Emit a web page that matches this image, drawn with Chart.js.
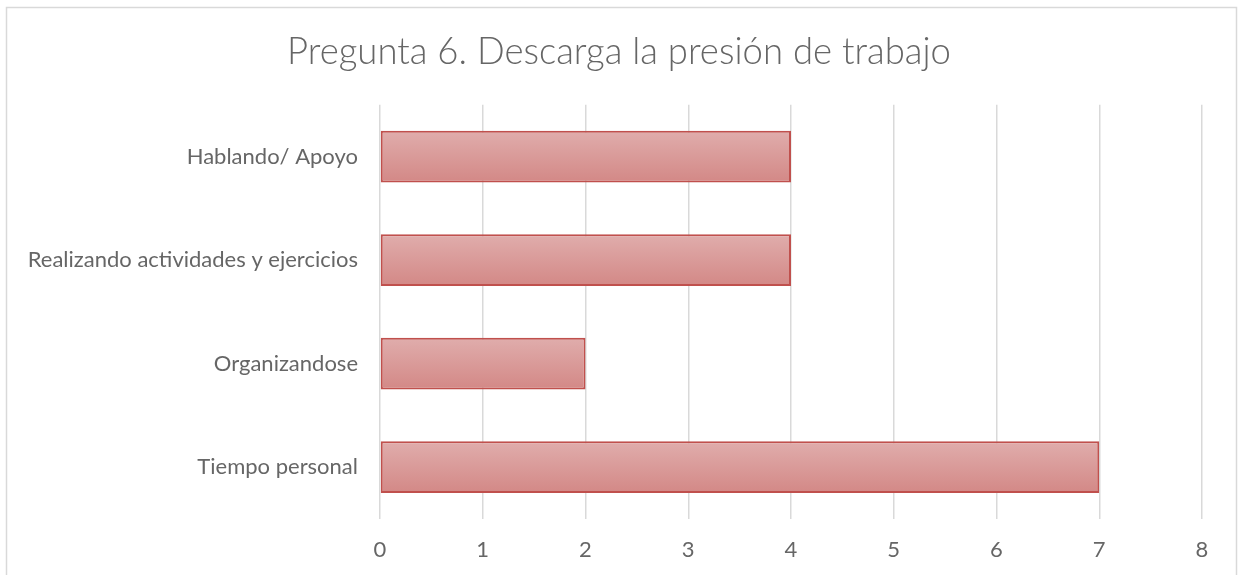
<!DOCTYPE html>
<html>
<head>
<meta charset="utf-8">
<script src="https://cdn.jsdelivr.net/npm/chart.js@4/dist/chart.umd.min.js"></script>
<style>
  html, body { margin: 0; padding: 0; background: #fff; }
  #wrap { width: 1238px; height: 575px; position: relative; }
</style>
</head>
<body>
<div id="wrap"><canvas id="c" width="1238" height="575"></canvas></div>
<script>
// datos de la grafica
var categorias = ["Hablando/ Apoyo", "Realizando actividades y ejercicios", "Organizandose", "Tiempo personal"];
var valores = [4, 4, 2, 7];
var titulo = "Pregunta 6. Descarga la presión de trabajo";
var ejeMin = 0, ejeMax = 8, paso = 1;

var gris = "#666666";
var fuente = "Lato, 'Open Sans', sans-serif";

// marco exterior del grafico + titulo centrado en todo el ancho
var marco = {
  id: "marco",
  afterLayout: function(ch) {
    if (ch.titleBlock) {
      ch.titleBlock.left = 0;
      ch.titleBlock.right = ch.width;
      ch.titleBlock.width = ch.width;
    }
  },
  beforeDraw: function(ch) {
    var c = ch.ctx;
    c.save();
    c.strokeStyle = "#d9d9d9";
    c.lineWidth = 1.5;
    c.strokeRect(6.5, 7.5, 1230, 600);
    c.restore();
  }
};

function relleno(ctx) {
  var ch = ctx.chart;
  if (!ch.chartArea || ctx.dataIndex === undefined) return "#d99694";
  var y = ch.scales.y;
  var mid = y.getPixelForValue(ctx.dataIndex);
  var h = (y.height / categorias.length) * 0.5;
  var g = ch.ctx.createLinearGradient(0, mid - h / 2, 0, mid + h / 2);
  g.addColorStop(0, "#e0adac");
  g.addColorStop(1, "#d38886");
  return g;
}

new Chart(document.getElementById("c").getContext("2d"), {
  type: "bar",
  data: {
    labels: categorias,
    datasets: [{
      data: valores,
      backgroundColor: relleno,
      borderColor: "#c0504d",
      borderWidth: 2,
      borderSkipped: false,
      categoryPercentage: 1,
      barPercentage: 0.5
    }]
  },
  options: {
    indexAxis: "y",
    responsive: false,
    animation: false,
    layout: { padding: { left: 0, right: 36, top: 0, bottom: 0 } },
    plugins: {
      legend: { display: false },
      tooltip: { enabled: false },
      title: {
        display: true,
        text: titulo,
        color: gris,
        font: { family: fuente, size: 36.5, weight: 300 },
        padding: { top: 30, bottom: 31 }
      }
    },
    scales: {
      x: {
        min: ejeMin, max: ejeMax,
        ticks: { stepSize: paso, color: gris, padding: 18, font: { family: fuente, size: 22 } },
        grid: { color: "#d9d9d9", lineWidth: 1.5, drawTicks: false },
        border: { display: false },
        afterFit: function(s) { s.height = 575 - 519; }
      },
      y: {
        ticks: { color: gris, padding: 14, font: { family: fuente, size: 22 } },
        grid: { display: false },
        border: { display: false },
        afterFit: function(s) { s.width = 380; }
      }
    }
  },
  plugins: [marco]
});
</script>
</body>
</html>
